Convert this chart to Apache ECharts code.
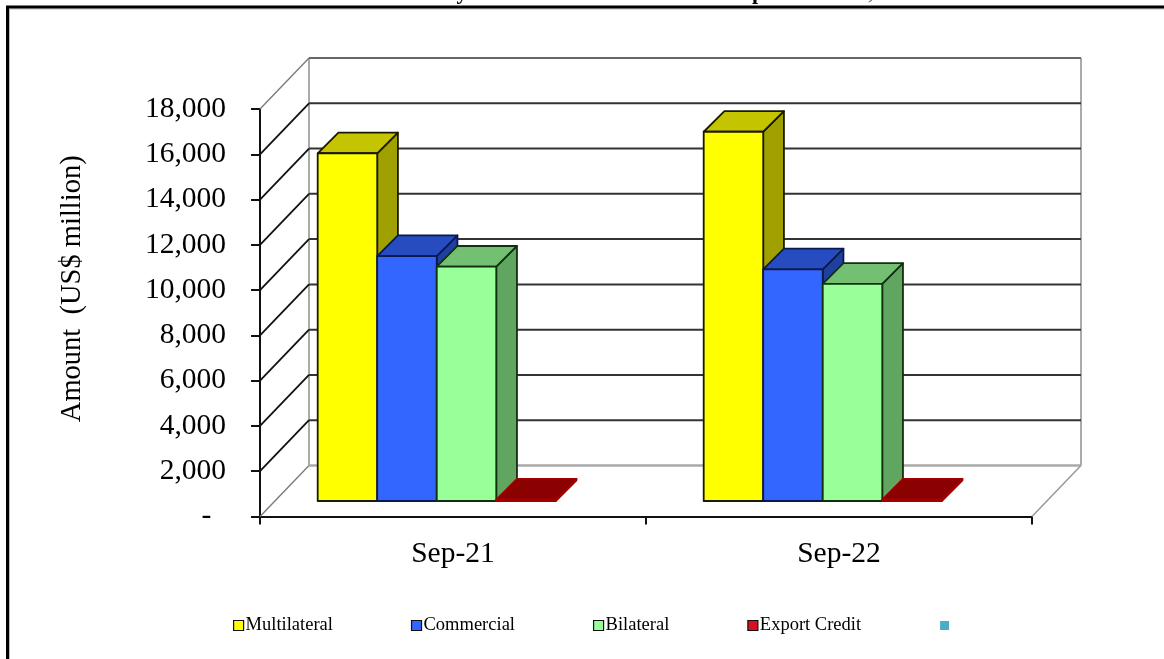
<!DOCTYPE html>
<html><head><meta charset="utf-8">
<style>html,body{margin:0;padding:0;background:#fff}#c{width:1164px;height:659px}</style>
<script src="https://cdn.jsdelivr.net/npm/echarts@6/dist/echarts.min.js"></script>
</head><body><div id="c"></div>
<script>
const categories = ['Sep-21', 'Sep-22'];
const seriesNames = ['Multilateral', 'Commercial', 'Bilateral', 'Export Credit', ' '];
const multilateral = [15360, 16310];
const commercial = [10820, 10230];
const bilateral = [10350, 9590];
const exportCredit = [60, 60];
const unnamedSeries = [null, null];
const tickValues = [0, 2000, 4000, 6000, 8000, 10000, 12000, 14000, 16000, 18000];
const tickLabels = ['-  ', '2,000', '4,000', '6,000', '8,000', '10,000', '12,000', '14,000', '16,000', '18,000'];
const axisTitle = 'Amount  (US$ million)';

const frontColors = ['#FFFF00', '#3366FF', '#99FF99', '#D81020', '#4BACC6'];
const topColors = ['#C4C400', '#264CBF', '#73C073', '#8B0000', '#3A8CA0'];
const sideColors = ['#A0A000', '#2040A0', '#60A560', '#700000', '#307080'];
const edgeColors = ['#1a1a00', '#0a1a50', '#103010', '#A00000', '#307080'];
const allValues = [multilateral, commercial, bilateral, exportCredit, unnamedSeries];

const SERIF = '"Liberation Serif","Times New Roman",serif';
const WALL_DX = 49, WALL_DY = 51;
const BAR_SHIFT_X = 13.5, BAR_SHIFT_Y = 15.5, BAR_DX = 20.7, BAR_DY = 20.7, BAR_FRACTION = 0.1542;

function wallItem(params, api) {
  const v = api.value(1);
  const y = api.coord([0, v])[1];
  const g = params.coordSys;
  const left = g.x, right = g.x + g.width;
  const isEdge = v === tickValues[0] || v === tickValues[tickValues.length - 1];
  const children = [
    { type: 'line', shape: { x1: left, y1: y, x2: left + WALL_DX, y2: y - WALL_DY },
      style: { stroke: isEdge ? '#777' : '#111', lineWidth: isEdge ? 1.3 : 1.8 } },
    { type: 'line', shape: { x1: left + WALL_DX, y1: y - WALL_DY, x2: right + WALL_DX, y2: y - WALL_DY },
      style: { stroke: v === tickValues[0] ? '#aaa' : (isEdge ? '#666' : '#333'), lineWidth: v === tickValues[0] ? 2.5 : 2 } }
  ];
  if (v === tickValues[0]) {
    children.push({ type: 'line', shape: { x1: right, y1: y, x2: right + WALL_DX, y2: y - WALL_DY }, style: { stroke: '#999', lineWidth: 1.5 } });
    const topY = api.coord([0, tickValues[tickValues.length - 1]])[1] - WALL_DY;
    children.push({ type: 'line', shape: { x1: left + WALL_DX, y1: y - WALL_DY, x2: left + WALL_DX, y2: topY }, style: { stroke: '#aaa', lineWidth: 2 } });
    children.push({ type: 'line', shape: { x1: right + WALL_DX, y1: y - WALL_DY, x2: right + WALL_DX, y2: topY }, style: { stroke: '#aaa', lineWidth: 2 } });
  }
  return { type: 'group', silent: true, children };
}

function barItem(params, api) {
  const value = api.value(1);
  if (value == null || isNaN(value)) return;
  const s = params.seriesIndex - 1;
  const p = api.coord([api.value(0), value]);
  const base = api.coord([api.value(0), 0]);
  const w = api.size([1, 0])[0] * BAR_FRACTION;
  const x0 = p[0] + BAR_SHIFT_X + (s - 2.5) * w, x1 = x0 + w;
  const yb = base[1] - BAR_SHIFT_Y, yt = p[1] - BAR_SHIFT_Y;
  const edge = { stroke: edgeColors[s], lineWidth: 1.8, lineJoin: 'round' };
  return { type: 'group', silent: true, children: [
    { type: 'polygon', shape: { points: [[x1, yt], [x1 + BAR_DX, yt - BAR_DY], [x1 + BAR_DX, yb - BAR_DY], [x1, yb]] },
      style: Object.assign({ fill: sideColors[s] }, edge) },
    { type: 'polygon', shape: { points: [[x0, yt], [x0 + BAR_DX, yt - BAR_DY], [x1 + BAR_DX, yt - BAR_DY], [x1, yt]] },
      style: Object.assign({ fill: topColors[s] }, edge) },
    { type: 'rect', shape: { x: x0, y: yt, width: w, height: yb - yt },
      style: Object.assign({ fill: frontColors[s] }, edge) }
  ]};
}

const wallSeries = { type: 'custom', name: 'walls', renderItem: wallItem, silent: true, z: 1, encode: { x: 0, y: 1 },
  data: tickValues.map(v => [0, v]) };
const barSeries = seriesNames.map((name, s) => ({
  type: 'custom', name, renderItem: barItem, silent: true, z: 2 + s, encode: { x: 0, y: 1 },
  itemStyle: { color: frontColors[s] },
  data: allValues[s].map((v, i) => [i, v])
}));

const legendData = seriesNames.map((name, s) => ({
  name, icon: 'rect',
  itemStyle: s < 4 ? { color: frontColors[s], borderColor: '#111', borderWidth: 1.2 } : { color: frontColors[s], borderColor: '#fff', borderWidth: 1 }
}));

const chart = echarts.init(document.getElementById('c'), null, { renderer: 'canvas' });
chart.setOption({
  animation: false,
  backgroundColor: '#fff',
  textStyle: { fontFamily: SERIF },
  grid: { left: 260, right: 132, top: 109, bottom: 142.5, containLabel: false },
  xAxis: {
    type: 'category', data: categories, boundaryGap: true,
    axisLine: { show: true, lineStyle: { color: '#111', width: 2 } },
    axisTick: { show: true, alignWithLabel: false, interval: 0, length: 8, lineStyle: { color: '#111', width: 2 } },
    axisLabel: { color: '#000', fontSize: 29.5, fontFamily: SERIF, margin: 23 },
    splitLine: { show: false }
  },
  yAxis: {
    type: 'value', min: 0, max: 18000, interval: 2000,
    name: axisTitle, nameLocation: 'middle', nameGap: 173, nameRotate: 90,
    nameTextStyle: { color: '#000', fontSize: 28.5, fontFamily: SERIF, padding: [0, 0, 0, 48] },
    axisLine: { show: true, lineStyle: { color: '#111', width: 2 } },
    axisTick: { show: true, length: 9, lineStyle: { color: '#111', width: 2 } },
    axisLabel: { color: '#000', fontSize: 29.5, fontFamily: SERIF, margin: 34, showMinLabel: true, showMaxLabel: true,
      padding: [4, 0, 0, 0],
      formatter: v => tickLabels[tickValues.indexOf(v)] },
    splitLine: { show: false }
  },
  legend: {
    left: 228, top: 611, orient: 'horizontal', itemWidth: 10, itemHeight: 10, itemGap: 78,
    textStyle: { color: '#000', fontSize: 18.5, fontFamily: SERIF, padding: [0, 0, 0, -3] },
    selectedMode: false, data: legendData
  },
  tooltip: { show: false },
  graphic: [
    { type: 'polyline', silent: true, z: 100, shape: { points: [[9.5, 659], [9.5, 9], [1164, 9]] }, style: { fill: 'none', stroke: '#bbb', lineWidth: 1 } },
    { type: 'polyline', silent: true, z: 101, shape: { points: [[7.5, 659], [7.5, 7], [1164, 7]] }, style: { fill: 'none', stroke: '#000', lineWidth: 3 } },
    { type: 'text', silent: true, z: 99, x: 462, y: 4, style: { text: 'y', align: 'center', verticalAlign: 'bottom', font: 'bold 22px ' + SERIF, fill: '#000' } },
    { type: 'text', silent: true, z: 99, x: 758, y: 4, style: { text: 'p', align: 'center', verticalAlign: 'bottom', font: 'bold 22px ' + SERIF, fill: '#000' } },
    { type: 'text', silent: true, z: 99, x: 871, y: 4, style: { text: ',', align: 'center', verticalAlign: 'bottom', font: 'bold 22px ' + SERIF, fill: '#777' } }
  ],
  series: [wallSeries].concat(barSeries)
});
</script></body></html>
